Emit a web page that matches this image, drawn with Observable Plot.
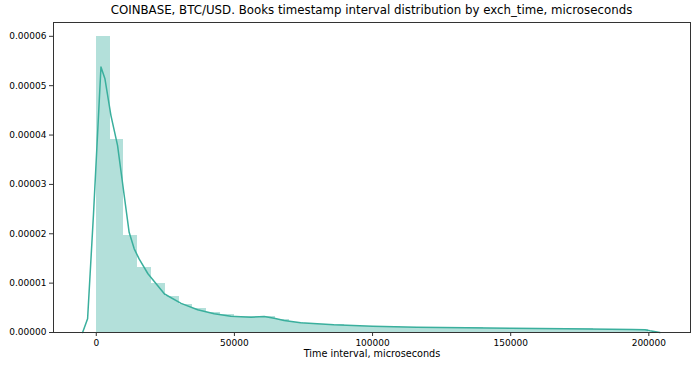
<!DOCTYPE html>
<html>
<head>
<meta charset="utf-8">
<script src="https://cdn.jsdelivr.net/npm/d3@7"></script>
<script src="https://cdn.jsdelivr.net/npm/@observablehq/plot@0.6"></script>
<style>
  html, body { margin: 0; padding: 0; background: #fff; }
  #wrap { width: 700px; height: 368px; position: relative; overflow: hidden; }
  #title { position: absolute; left: 53px; width: 637px; top: 3px; text-align: center;
           font-family: "DejaVu Sans", sans-serif; font-size: 11.8px; color: #000; white-space: nowrap; }
  #chart { position: absolute; left: 0; top: 21px; }
</style>
</head>
<body>
<div id="wrap">
  <div id="title">COINBASE, BTC/USD. Books timestamp interval distribution by exch_time, microseconds</div>
  <div id="chart"></div>
</div>
<script>
const titleText = "COINBASE, BTC/USD. Books timestamp interval distribution by exch_time, microseconds";
const xLabel = "Time interval, microseconds";

// Histogram bins (bin start, microseconds) and density values
const binStarts = [0, 5000, 10000, 15000, 20000, 25000, 30000, 35000, 40000, 45000,
  50000, 55000, 60000, 65000, 70000, 75000, 80000, 85000, 90000, 95000,
  100000, 105000, 110000, 115000, 120000, 125000, 130000, 135000, 140000, 145000,
  150000, 155000, 160000, 165000, 170000, 175000, 180000, 185000, 190000, 195000];
const binWidth = 5000;
const binDensity = [6.00e-5, 3.91e-5, 1.97e-5, 1.31e-5, 0.99e-5, 0.72e-5, 0.57e-5, 0.48e-5, 0.41e-5, 0.36e-5,
  0.33e-5, 0.32e-5, 0.32e-5, 0.27e-5, 0.21e-5, 0.19e-5, 0.17e-5, 0.155e-5, 0.145e-5, 0.13e-5,
  0.125e-5, 0.12e-5, 0.11e-5, 0.105e-5, 0.10e-5, 0.10e-5, 0.095e-5, 0.095e-5, 0.09e-5, 0.09e-5,
  0.088e-5, 0.085e-5, 0.082e-5, 0.08e-5, 0.075e-5, 0.072e-5, 0.068e-5, 0.065e-5, 0.062e-5, 0.058e-5];

// KDE curve points
const kdeX = [-4950, -3140, -1000, 1700, 3140, 5300, 7700, 10100, 11900, 13700, 15500, 18700,
  24700, 30700, 36700, 42700, 48700, 56000, 60800, 64400, 68000, 74000, 86000, 100000,
  116000, 134000, 150000, 170000, 194000, 198600, 200400, 204000];
const kdeY = [0, 0.28e-5, 2.4e-5, 5.38e-5, 5.14e-5, 4.40e-5, 3.79e-5, 2.78e-5, 2.03e-5, 1.70e-5, 1.49e-5, 1.19e-5,
  0.78e-5, 0.59e-5, 0.46e-5, 0.38e-5, 0.33e-5, 0.31e-5, 0.325e-5, 0.29e-5, 0.243e-5, 0.196e-5, 0.156e-5, 0.128e-5,
  0.108e-5, 0.095e-5, 0.088e-5, 0.075e-5, 0.061e-5, 0.055e-5, 0.035e-5, 0];

const xTicks = [0, 50000, 100000, 150000, 200000];
const yTicks = [0, 0.00001, 0.00002, 0.00003, 0.00004, 0.00005, 0.00006];

const bins = binStarts.map((s, i) => ({x1: s, x2: s + binWidth, v: binDensity[i]}));
const kde = kdeX.map((x, i) => ({x, y: kdeY[i]}));

const plot = Plot.plot({
  width: 700,
  height: 347,
  marginLeft: 53,
  marginRight: 10,
  marginTop: 1,
  marginBottom: 36,
  style: {fontFamily: "DejaVu Sans, sans-serif", fontSize: "9px", color: "#000", background: "#fff"},
  x: {domain: [-15480, 215080]},
  y: {domain: [0, 0.0000628]},
  marks: [
    Plot.rectY(bins, {x1: "x1", x2: "x2", y: "v", fill: "#b3e0da", insetLeft: 0, insetRight: 0, shapeRendering: "crispEdges"}),
    Plot.line(kde, {x: "x", y: "y", stroke: "#3aaf9d", strokeWidth: 1.5}),
    Plot.axisX({ticks: xTicks, tickFormat: d => String(d), tickSize: 4, tickPadding: 3, label: null, stroke: "#333"}),
    Plot.axisY({ticks: yTicks, tickFormat: d => d.toFixed(5), tickSize: 4, tickPadding: 3, label: null, stroke: "#333"}),
    Plot.text([xLabel], {frameAnchor: "bottom", dy: 24, fontSize: 9.7, fill: "#000"}),
    Plot.frame({stroke: "#333", strokeWidth: 1})
  ]
});
document.getElementById("chart").appendChild(plot);
</script>
</body>
</html>
